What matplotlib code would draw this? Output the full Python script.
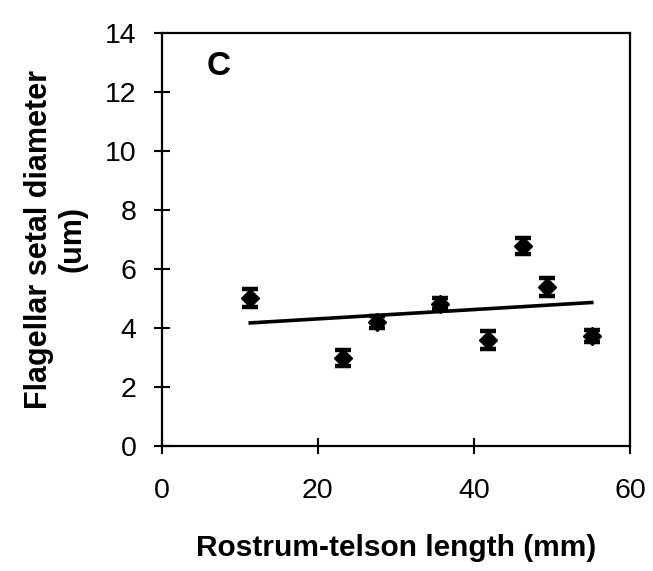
import numpy as np
import matplotlib
matplotlib.use("Agg")
import matplotlib.pyplot as plt

plt.rcParams['font.family'] = ['Liberation Sans', 'DejaVu Sans']

length_mm = [11.35, 23.2, 27.6, 35.7, 41.8, 46.3, 49.4, 55.1]
setal_diam = [5.01, 2.98, 4.20, 4.82, 3.58, 6.77, 5.38, 3.72]
setal_err = [0.30, 0.27, 0.20, 0.18, 0.30, 0.26, 0.30, 0.20]
x_ticks = [0, 20, 40, 60]
y_ticks = [0, 2, 4, 6, 8, 10, 12, 14]

fig = plt.figure(figsize=(6.53, 5.71), dpi=100)
ax = fig.add_axes([0.2476, 0.2194, 0.9648 - 0.2476, 0.9427 - 0.2194])

ax.errorbar(length_mm, setal_diam, yerr=setal_err, fmt='D', color='black',
            markersize=9, capsize=6, capthick=3.2, elinewidth=2.4, zorder=3)

# linear regression line over data range
slope, intercept = np.polyfit(length_mm, setal_diam, 1)
xs = np.array([min(length_mm), max(length_mm)])
ax.plot(xs, slope * xs + intercept, color='black', linewidth=2.6, zorder=2)

ax.set_xlim(0, 60)
ax.set_ylim(0, 14)
ax.set_xticks(x_ticks)
ax.set_yticks(y_ticks)
ax.tick_params(axis='both', direction='inout', length=12, width=1.5,
               labelsize=20.5)
ax.tick_params(axis='y', pad=12)
ax.tick_params(axis='x', pad=17)
for s in ax.spines.values():
    s.set_linewidth(1.6)

ax.set_xlabel('Rostrum-telson length (mm)', fontsize=21.5, fontweight='bold', labelpad=22)
ax.set_ylabel('Flagellar setal diameter\n(um)', fontsize=22, fontweight='bold',
              labelpad=13, linespacing=1.12)
ax.text(0.095, 0.917, 'C', transform=ax.transAxes, fontsize=24, fontweight='bold',
        ha='left', va='center')

fig.savefig('out.png', dpi=100)
